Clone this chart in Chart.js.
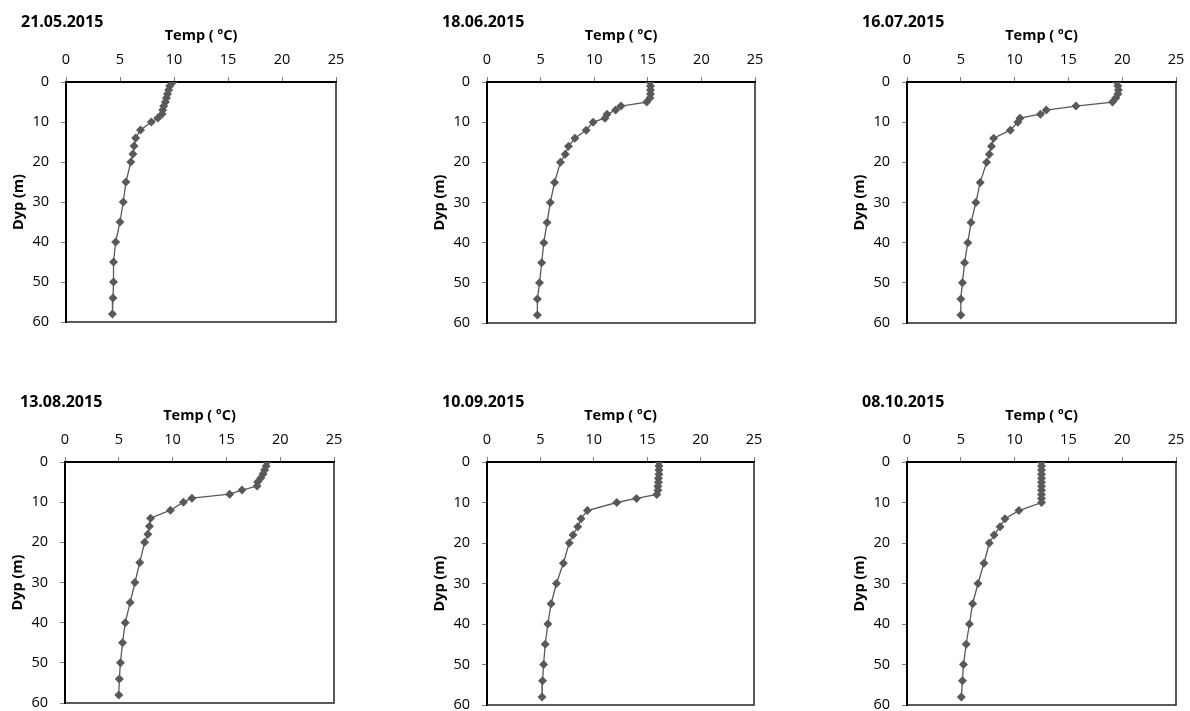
<!DOCTYPE html>
<html>
<head>
<meta charset="utf-8">
<script src="https://cdn.jsdelivr.net/npm/chart.js@4.4.1/dist/chart.umd.min.js"></script>
<style>
  body{margin:0;background:#fff;width:1190px;height:711px;overflow:hidden;position:relative;}
  canvas{position:absolute;}
</style>
</head>
<body>
<script>
// depth of each sample (m)
var depths = [0,1,2,3,4,5,6,7,8,9,10,12,14,16,18,20,25,30,35,40,45,50,54,58];

// temperature profiles (C), one per sampling date
var temp_21_05 = [9.9,9.6,9.5,9.4,9.3,9.2,9.05,8.95,8.9,8.5,7.9,6.9,6.45,6.3,6.2,6.0,5.55,5.3,5.0,4.6,4.4,4.4,4.35,4.3];
var temp_18_06 = [15.2,15.25,15.25,15.25,15.2,14.9,12.5,12.0,11.2,11.0,9.9,9.25,8.2,7.6,7.3,6.85,6.3,5.9,5.6,5.3,5.1,4.9,4.7,4.7];
var temp_16_07 = [19.5,19.6,19.65,19.6,19.4,19.1,15.7,12.95,12.4,10.5,10.3,9.6,8.05,7.85,7.65,7.4,6.8,6.4,5.95,5.65,5.35,5.15,5.0,5.0];
var temp_13_08 = [18.75,18.7,18.55,18.4,18.2,17.9,17.85,16.45,15.3,11.8,11.0,9.8,7.95,7.85,7.7,7.4,6.95,6.5,6.05,5.6,5.35,5.15,5.05,5.0];
var temp_10_09 = [16.1,16.1,16.1,16.1,16.05,16.05,16.0,16.0,15.9,14.0,12.15,9.4,8.8,8.5,8.05,7.7,7.15,6.5,6.0,5.7,5.45,5.3,5.2,5.15];
var temp_08_10 = [12.5,12.5,12.5,12.5,12.5,12.5,12.5,12.5,12.5,12.5,12.5,10.4,9.1,8.65,8.1,7.65,7.15,6.6,6.1,5.8,5.5,5.25,5.15,5.05];

var dates = ["21.05.2015","18.06.2015","16.07.2015","13.08.2015","10.09.2015","08.10.2015"];
var profiles = [temp_21_05,temp_18_06,temp_16_07,temp_13_08,temp_10_09,temp_08_10];

var xTicks = [0,5,10,15,20,25];
var yTicks = [0,10,20,30,40,50,60];

// plot area box of every panel: left, top, width, height
var panels = [
    [66,82,270,240],[487,82,268,241],[907,82,269,241],
    [65,462,269,241],[487,462,267,243],[907,462,269,243]
];

var FONT = "'Open Sans', 'Liberation Sans', sans-serif";
var GREY = '#595959';

//********************************************** */
var panelDeco = {
    id: 'panelDeco',
    afterDraw(chart){
        const ctx = chart.ctx, a = chart.chartArea;
        ctx.save();
        // right + bottom frame
        ctx.strokeStyle = '#262626';
        ctx.lineWidth = 1.5;
        ctx.beginPath();
        ctx.moveTo(a.right, a.top);
        ctx.lineTo(a.right, a.bottom);
        ctx.lineTo(a.left, a.bottom);
        ctx.stroke();
        // date caption
        ctx.fillStyle = '#000';
        ctx.font = "bold 16px " + FONT;
        ctx.textBaseline = 'middle';
        ctx.textAlign = 'left';
        ctx.fillText(chart.options.plugins.panelDeco.date, a.left - 45, a.top - 60);
        ctx.restore();
    }
};

function MakePanel(idx){
    const p = panels[idx];
    const cv = document.createElement('canvas');
    const w = 66 + p[2] + 8, h = 82 + p[3] + 6;
    cv.width = w; cv.height = h;
    cv.style.left = (p[0] - 66) + 'px';
    cv.style.top = (p[1] - 82) + 'px';
    cv.style.width = w + 'px'; cv.style.height = h + 'px';
    document.body.appendChild(cv);

    const pts = [];
    for(let i=0;i<depths.length;i++){
        pts.push({x: profiles[idx][i], y: depths[i]});
    }

    new Chart(cv, {
        type: 'scatter',
        data: {
            datasets: [{
                data: pts,
                showLine: true,
                borderColor: GREY,
                borderWidth: 1.3,
                backgroundColor: GREY,
                pointStyle: 'rectRot',
                pointRadius: 4.5,
                pointBorderWidth: 0,
                pointBackgroundColor: GREY,
            }]
        },
        options: {
            responsive: false,
            animation: false,
            layout: {padding: {top: 24, right: 8, bottom: 6, left: 0}},
            scales: {
                x: {
                    type: 'linear', position: 'top', min: 0, max: 25,
                    afterBuildTicks: s => { s.ticks = xTicks.map(v => ({value: v})); },
                    afterFit: s => { s.height = 58; s.paddingLeft = 0; s.paddingRight = 0; },
                    ticks: {color: '#000', font: {family: FONT, size: 14.5}, padding: 8},
                    grid: {drawOnChartArea: false, drawTicks: true, tickLength: 5, color: '#7f7f7f'},
                    border: {color: '#000', width: 2},
                    title: {display: true, text: 'Temp ( ºC)', color: '#000',
                        font: {family: FONT, size: 14.5, weight: 'bold'}, padding: {top: 3, bottom: 0}}
                },
                y: {
                    type: 'linear', position: 'left', reverse: true, min: 0, max: 60,
                    afterBuildTicks: s => { s.ticks = yTicks.map(v => ({value: v})); },
                    afterFit: s => { s.width = 66; s.paddingTop = 0; s.paddingBottom = 0; },
                    ticks: {color: '#000', font: {family: FONT, size: 14.5}, padding: 12},
                    grid: {drawOnChartArea: false, drawTicks: true, tickLength: 5, color: '#7f7f7f'},
                    border: {color: '#000', width: 2},
                    title: {display: true, text: 'Dyp (m)', color: '#000',
                        font: {family: FONT, size: 14.5, weight: 'bold'}, padding: {top: 10, bottom: 0}}
                }
            },
            plugins: {
                legend: {display: false},
                tooltip: {enabled: false},
                panelDeco: {date: dates[idx]}
            }
        },
        plugins: [panelDeco]
    });
}

for(let k=0;k<panels.length;k++) MakePanel(k);
</script>
</body>
</html>
